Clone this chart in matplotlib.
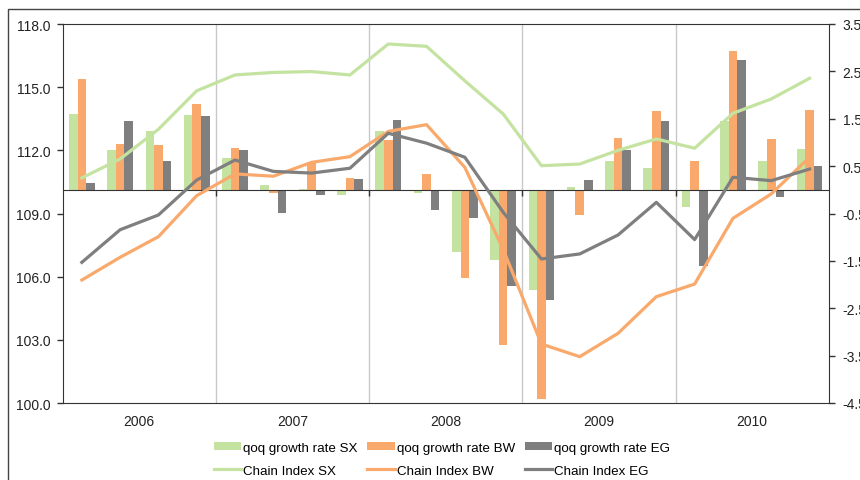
import matplotlib
matplotlib.use("Agg")
import matplotlib.pyplot as plt
from matplotlib.patches import Rectangle
import numpy as np

plt.rcParams['font.family'] = ['Liberation Sans', 'DejaVu Sans']

# quarterly data 2006 Q1 - 2010 Q4
years = ["2006", "2007", "2008", "2009", "2010"]

qoq_sx = [1.60, 0.84, 1.24, 1.58, 0.67, 0.11, 0.02, -0.12, 1.24, -0.06,
          -1.31, -1.49, -2.12, 0.06, 0.60, 0.46, -0.37, 1.46, 0.60, 0.86]
qoq_bw = [2.34, 0.97, 0.95, 1.81, 0.89, -0.06, 0.58, 0.25, 1.05, 0.34,
          -1.86, -3.27, -4.41, -0.54, 1.10, 1.66, 0.60, 2.93, 1.08, 1.69]
qoq_eg = [0.14, 1.45, 0.61, 1.55, 0.84, -0.49, -0.11, 0.23, 1.48, -0.42,
          -0.59, -2.04, -2.32, 0.20, 0.84, 1.45, -1.60, 2.74, -0.15, 0.51]

chain_sx = [110.69, 111.59, 113.00, 114.83, 115.58, 115.70, 115.74, 115.58, 117.05, 116.94,
            115.30, 113.73, 111.27, 111.35, 112.00, 112.54, 112.10, 113.76, 114.44, 115.42]
chain_bw = [105.84, 106.92, 107.90, 109.85, 110.88, 110.77, 111.43, 111.70, 112.90, 113.22,
            111.19, 107.30, 102.80, 102.20, 103.31, 105.05, 105.65, 108.77, 109.93, 111.67]
chain_eg = [106.68, 108.23, 108.93, 110.59, 111.54, 111.00, 110.92, 111.15, 112.81, 112.34,
            111.67, 109.06, 106.84, 107.08, 107.98, 109.53, 107.76, 110.72, 110.56, 111.11]

green = "#C4E3A1"
orange = "#F9A96B"
gray = "#7F7F7F"
dark = "#333333"

fig = plt.figure(figsize=(8.6, 4.81), dpi=100)
rect = [62.7 / 860, 1 - 404 / 481, 766 / 860, 379 / 481]

# bars on the right scale (drawn underneath)
ax2 = fig.add_axes(rect)
ax = fig.add_axes(rect)
ax.patch.set_visible(False)

x = np.arange(len(qoq_sx)) + 0.5
w = 0.225
b1 = ax2.bar(x - w, qoq_sx, w, color=green, label="qoq growth rate SX")
b2 = ax2.bar(x, qoq_bw, w, color=orange, label="qoq growth rate BW")
b3 = ax2.bar(x + w, qoq_eg, w, color=gray, label="qoq growth rate EG")
ax2.set_xlim(0, 20)
ax2.set_ylim(-4.5, 3.5)
ax2.yaxis.tick_right()
ax2.set_yticks(np.arange(-4.5, 3.6, 1.0))
ax2.set_yticklabels(["%.1f" % v for v in np.arange(-4.5, 3.6, 1.0)])
ax2.tick_params(axis='y', direction='out', length=4, width=1, pad=6, labelsize=10,
                colors=dark, labelcolor="#222222")
ax2.set_xticks([4, 8, 12, 16])
ax2.set_xticklabels([])
ax2.tick_params(axis='x', direction='out', length=4, width=1, colors=dark)
ax2.grid(axis='x', color="#C8C8C8", lw=1)
ax2.set_axisbelow(True)
ax2.spines['bottom'].set_position(('data', 0))
ax2.spines['bottom'].set_color(dark)
ax2.spines['right'].set_color(dark)
ax2.spines['left'].set_visible(False)
ax2.spines['top'].set_visible(False)

# chain index lines on the left scale
l1, = ax.plot(x, chain_sx, color=green, lw=2.3, label="Chain Index SX")
l2, = ax.plot(x, chain_bw, color=orange, lw=2.3, label="Chain Index BW")
l3, = ax.plot(x, chain_eg, color=gray, lw=2.3, label="Chain Index EG")
ax.set_xlim(0, 20)
ax.set_ylim(100, 118)
ax.set_yticks(np.arange(100, 118.1, 3))
ax.set_yticklabels(["%.1f" % v for v in np.arange(100, 118.1, 3)])
ax.tick_params(axis='y', direction='out', length=4, width=1, pad=5, labelsize=10,
               colors=dark, labelcolor="#222222")
ax.set_xticks([2, 6, 10, 14, 18])
ax.set_xticklabels(years)
ax.tick_params(axis='x', length=0, pad=8, labelsize=10, labelcolor="#222222")
ax.spines['right'].set_visible(False)
for s in ['left', 'top', 'bottom']:
    ax.spines[s].set_color(dark)

handles = [b1, l1, b2, l2, b3, l3]
fig.legend(handles, [h.get_label() for h in handles], ncol=3, loc='center',
           bbox_to_anchor=(0.514, 0.043), frameon=False, fontsize=9.6,
           handlelength=2.05, handleheight=0.5, handletextpad=0.15,
           columnspacing=0.75, labelspacing=0.8, borderpad=0)

# outer frame of the original chart
fig.add_artist(Rectangle((8 / 860, -0.2), 1.5, 0.2 + 1 - 10 / 481,
                         transform=fig.transFigure, fill=False, ec="#444444", lw=1))

fig.savefig("out.png", dpi=100)
